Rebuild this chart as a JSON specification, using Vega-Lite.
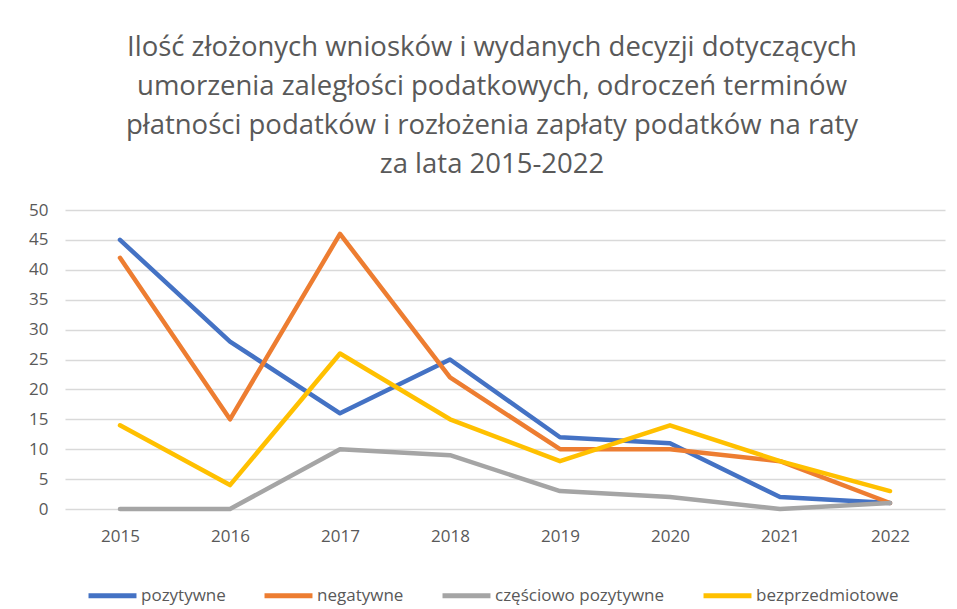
{
  "$schema": "https://vega.github.io/schema/vega-lite/v6.json",
  "autosize": "none",
  "width": 880,
  "height": 299,
  "padding": {"left": 65, "top": 210, "right": 12, "bottom": 100},
  "background": "white",
  "title": {
    "text": ["Ilość złożonych wniosków i wydanych decyzji dotyczących", "umorzenia zaległości podatkowych, odroczeń terminów", "płatności podatków i rozłożenia zapłaty podatków na raty", "za lata 2015-2022"],
    "font": "Open Sans",
    "fontSize": 27.5,
    "fontWeight": "normal",
    "color": "#595959",
    "lineHeight": 39,
    "anchor": "middle",
    "frame": "group",
    "dx": -13,
    "offset": 23
  },
  "data": {
    "values": [
      {"rok": "2015", "seria": "pozytywne", "wartosc": 45},
      {"rok": "2016", "seria": "pozytywne", "wartosc": 28},
      {"rok": "2017", "seria": "pozytywne", "wartosc": 16},
      {"rok": "2018", "seria": "pozytywne", "wartosc": 25},
      {"rok": "2019", "seria": "pozytywne", "wartosc": 12},
      {"rok": "2020", "seria": "pozytywne", "wartosc": 11},
      {"rok": "2021", "seria": "pozytywne", "wartosc": 2},
      {"rok": "2022", "seria": "pozytywne", "wartosc": 1},
      {"rok": "2015", "seria": "negatywne", "wartosc": 42},
      {"rok": "2016", "seria": "negatywne", "wartosc": 15},
      {"rok": "2017", "seria": "negatywne", "wartosc": 46},
      {"rok": "2018", "seria": "negatywne", "wartosc": 22},
      {"rok": "2019", "seria": "negatywne", "wartosc": 10},
      {"rok": "2020", "seria": "negatywne", "wartosc": 10},
      {"rok": "2021", "seria": "negatywne", "wartosc": 8},
      {"rok": "2022", "seria": "negatywne", "wartosc": 1},
      {"rok": "2015", "seria": "częściowo pozytywne", "wartosc": 0},
      {"rok": "2016", "seria": "częściowo pozytywne", "wartosc": 0},
      {"rok": "2017", "seria": "częściowo pozytywne", "wartosc": 10},
      {"rok": "2018", "seria": "częściowo pozytywne", "wartosc": 9},
      {"rok": "2019", "seria": "częściowo pozytywne", "wartosc": 3},
      {"rok": "2020", "seria": "częściowo pozytywne", "wartosc": 2},
      {"rok": "2021", "seria": "częściowo pozytywne", "wartosc": 0},
      {"rok": "2022", "seria": "częściowo pozytywne", "wartosc": 1},
      {"rok": "2015", "seria": "bezprzedmiotowe", "wartosc": 14},
      {"rok": "2016", "seria": "bezprzedmiotowe", "wartosc": 4},
      {"rok": "2017", "seria": "bezprzedmiotowe", "wartosc": 26},
      {"rok": "2018", "seria": "bezprzedmiotowe", "wartosc": 15},
      {"rok": "2019", "seria": "bezprzedmiotowe", "wartosc": 8},
      {"rok": "2020", "seria": "bezprzedmiotowe", "wartosc": 14},
      {"rok": "2021", "seria": "bezprzedmiotowe", "wartosc": 8},
      {"rok": "2022", "seria": "bezprzedmiotowe", "wartosc": 3}
    ]
  },
  "mark": {"type": "line", "strokeWidth": 4.5, "strokeCap": "round", "strokeJoin": "round"},
  "encoding": {
    "x": {
      "field": "rok", "type": "ordinal",
      "scale": {"type": "point", "padding": 0.5},
      "axis": {"title": null, "labelAngle": 0, "ticks": false, "domain": false, "grid": false, "labelPadding": 19, "labelFont": "Open Sans", "labelFontSize": 17, "labelColor": "#595959"}
    },
    "y": {
      "field": "wartosc", "type": "quantitative",
      "scale": {"domain": [0, 50], "nice": false},
      "axis": {"title": null, "values": [0, 5, 10, 15, 20, 25, 30, 35, 40, 45, 50], "ticks": false, "domain": false, "gridColor": "#d9d9d9", "gridWidth": 1.5, "labelPadding": 17, "labelFont": "Open Sans", "labelFontSize": 17, "labelColor": "#595959"}
    },
    "color": {
      "field": "seria", "type": "nominal",
      "sort": ["pozytywne", "negatywne", "częściowo pozytywne", "bezprzedmiotowe"],
      "scale": {"domain": ["pozytywne", "negatywne", "częściowo pozytywne", "bezprzedmiotowe"], "range": ["#4472C4", "#ED7D31", "#A5A5A5", "#FFC000"]},
      "legend": {
        "title": null, "orient": "none", "legendX": 21, "legendY": 359,
        "direction": "horizontal", "columns": 4, "columnPadding": 28,
        "symbolType": "stroke", "symbolSize": 2300, "symbolStrokeWidth": 5,
        "labelFont": "Open Sans", "labelFontSize": 17, "labelColor": "#595959", "labelOffset": 2, "labelLimit": 400
      }
    }
  },
  "config": {"view": {"stroke": null}}
}
